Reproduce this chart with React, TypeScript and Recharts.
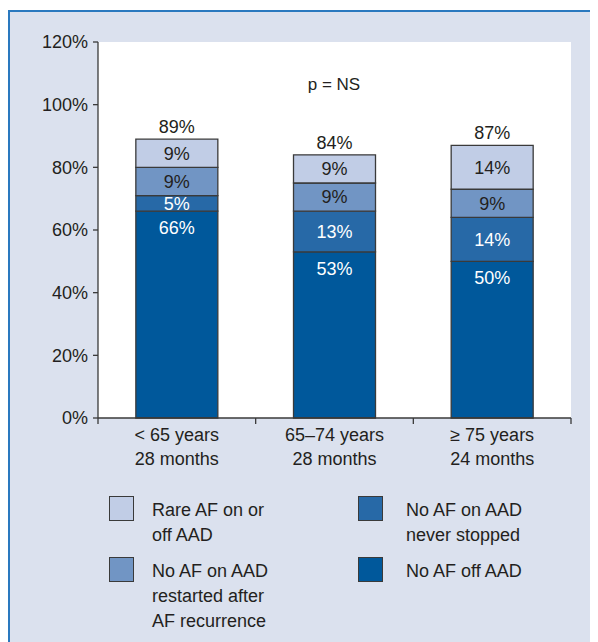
import React from "react";
import { BarChart, Bar, XAxis, YAxis, CartesianGrid, LabelList } from "recharts";

const ageGroups = ["< 65 years", "65–74 years", "≥ 75 years"];
const followUp = ["28 months", "28 months", "24 months"];
const noAfOffAad = [66, 53, 50];
const noAfNeverStopped = [5, 13, 14];
const noAfRestarted = [9, 9, 9];
const rareAf = [9, 9, 14];
const yTicks = [0, 20, 40, 60, 80, 100, 120];

const ink = "#231f20";
const edge = "#3a3a3a";
const font = "'Liberation Sans', Arial, sans-serif";

const colors = {
  off: "#00589b",
  never: "#2769a7",
  restarted: "#7195c4",
  rare: "#c1cde6",
};

const data = ageGroups.map((group, i) => ({
  group,
  off: noAfOffAad[i],
  never: noAfNeverStopped[i],
  restarted: noAfRestarted[i],
  rare: rareAf[i],
  total: noAfOffAad[i] + noAfNeverStopped[i] + noAfRestarted[i] + rareAf[i],
}));

const legendItems = [
  { lines: ["Rare AF on or", "off AAD"], color: colors.rare, col: 0, row: 0 },
  { lines: ["No AF on AAD", "restarted after", "AF recurrence"], color: colors.restarted, col: 0, row: 1 },
  { lines: ["No AF on AAD", "never stopped"], color: colors.never, col: 1, row: 0 },
  { lines: ["No AF off AAD"], color: colors.off, col: 1, row: 1 },
];

const pct = (v: any) => `${v}%`;

function CategoryTick(props: any) {
  const { x, y, payload, index, visibleTicksCount } = props;
  const half = payload?.offset ?? 0;
  return (
    <g>
      <line x1={x - half} x2={x - half} y1={y} y2={y + 6} stroke={edge} strokeWidth={1.3} />
      {index === visibleTicksCount - 1 && (
        <line x1={x + half} x2={x + half} y1={y} y2={y + 6} stroke={edge} strokeWidth={1.3} />
      )}
      <text x={x} y={y + 23} textAnchor="middle" fill={ink} fontSize={18} fontFamily={font}>
        {payload.value}
      </text>
      <text x={x} y={y + 47} textAnchor="middle" fill={ink} fontSize={18} fontFamily={font}>
        {followUp[index]}
      </text>
    </g>
  );
}

export default function App() {
  const colX = [101, 350];
  const rowY = [488, 549];
  return (
    <div style={{ position: "relative", width: 590, height: 634, fontFamily: font, color: ink }}>
      <div
        style={{
          position: "absolute",
          left: 0,
          top: 2,
          width: 590,
          height: 632,
          boxSizing: "border-box",
          background: "#dbe1ee",
          borderTop: "2px solid #2a79bf",
          borderLeft: "2px solid #2a79bf",
        }}
      />
      <div style={{ position: "absolute", left: 0, top: 0 }}>
        <BarChart
          width={590}
          height={480}
          data={data}
          margin={{ top: 34, right: 27, bottom: 10, left: 30 }}
          barCategoryGap="24%"
        >
          <CartesianGrid fill="#ffffff" horizontal={false} vertical={false} />
          <XAxis
            dataKey="group"
            height={60}
            tickLine={false}
            tickSize={0}
            tickMargin={0}
            interval={0}
            axisLine={{ stroke: edge, strokeWidth: 1.3 }}
            tick={<CategoryTick />}
          />
          <YAxis
            domain={[0, 120]}
            ticks={yTicks}
            interval={0}
            width={60}
            tickSize={5}
            tickMargin={5}
            tickFormatter={pct}
            axisLine={{ stroke: edge, strokeWidth: 1.3 }}
            tickLine={{ stroke: edge, strokeWidth: 1.3 }}
            tick={{ fill: ink, fontSize: 18, fontFamily: font }}
          />
          <Bar dataKey="off" stackId="a" fill={colors.off} stroke={edge} strokeWidth={1.3} isAnimationActive={false}>
            <LabelList dataKey="off" position="insideTop" offset={10} formatter={pct} fill="#ffffff" fontSize={18} fontFamily={font} />
          </Bar>
          <Bar dataKey="never" stackId="a" fill={colors.never} stroke={edge} strokeWidth={1.3} isAnimationActive={false}>
            <LabelList dataKey="never" position="center" formatter={pct} fill="#ffffff" fontSize={18} fontFamily={font} />
          </Bar>
          <Bar dataKey="restarted" stackId="a" fill={colors.restarted} stroke={edge} strokeWidth={1.3} isAnimationActive={false}>
            <LabelList dataKey="restarted" position="center" formatter={pct} fill={ink} fontSize={18} fontFamily={font} />
          </Bar>
          <Bar dataKey="rare" stackId="a" fill={colors.rare} stroke={edge} strokeWidth={1.3} isAnimationActive={false}>
            <LabelList dataKey="rare" position="center" formatter={pct} fill={ink} fontSize={18} fontFamily={font} />
            <LabelList dataKey="total" position="top" offset={6} formatter={pct} fill={ink} fontSize={18} fontFamily={font} />
          </Bar>
        </BarChart>
      </div>
      <div
        style={{
          position: "absolute",
          left: 276,
          top: 67,
          width: 100,
          textAlign: "center",
          fontSize: 17,
          lineHeight: "20px",
        }}
      >
        p = NS
      </div>
      {legendItems.map((item, i) => (
        <div key={i} style={{ position: "absolute", left: colX[item.col], top: rowY[item.row] }}>
          <div
            style={{
              position: "absolute",
              left: 0,
              top: 0,
              width: 25,
              height: 25,
              boxSizing: "border-box",
              background: item.color,
              border: `1.5px solid ${edge}`,
            }}
          />
          <div
            style={{
              position: "absolute",
              left: item.col === 0 ? 43 : 48,
              top: 2,
              fontSize: 18,
              lineHeight: "25px",
              whiteSpace: "nowrap",
            }}
          >
            {item.lines.map((line, j) => (
              <div key={j}>{line}</div>
            ))}
          </div>
        </div>
      ))}
    </div>
  );
}
